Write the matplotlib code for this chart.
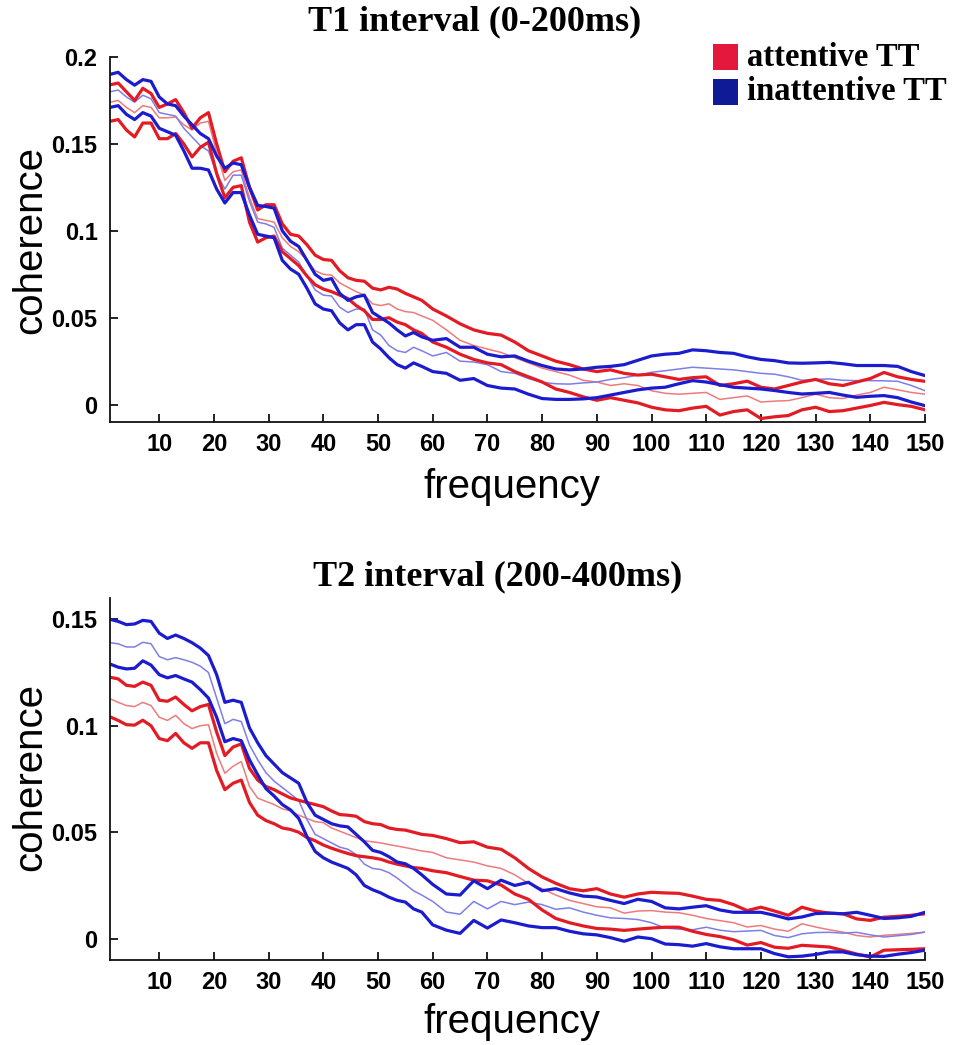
import numpy as np
import matplotlib
matplotlib.use("Agg")
import matplotlib.pyplot as plt
from matplotlib.patches import Rectangle

# Frequency samples (Hz): finer where the spectra wiggle most
freq = np.r_[np.arange(1, 59, 1.5), np.arange(60, 151, 2.5)]

# ---- T1 interval (0-200 ms) ----
t1_att_upper = [
    0.184, 0.185, 0.180, 0.175, 0.182, 0.179, 0.171, 0.173, 0.1755, 0.168,
    0.159, 0.165, 0.168, 0.150, 0.134, 0.140, 0.142, 0.125, 0.112, 0.115,
    0.115, 0.104, 0.098, 0.097, 0.092, 0.086, 0.0835, 0.083, 0.077, 0.073,
    0.0715, 0.071, 0.067, 0.066, 0.0675, 0.0665, 0.064, 0.062, 0.060,
    0.055, 0.051, 0.0465, 0.043, 0.041, 0.040, 0.036, 0.031, 0.028, 0.025,
    0.023, 0.0205, 0.019, 0.020, 0.018, 0.017, 0.0175, 0.016, 0.0145, 0.0155,
    0.016, 0.011, 0.012, 0.0135, 0.010, 0.009, 0.011, 0.013, 0.0145, 0.012,
    0.011, 0.013, 0.015, 0.0185, 0.016, 0.0145, 0.0134]
t1_att_mean = [
    0.174, 0.175, 0.171, 0.168, 0.172, 0.171, 0.165, 0.165, 0.1655, 0.161,
    0.158, 0.162, 0.163, 0.145, 0.129, 0.134, 0.135, 0.119, 0.107, 0.106,
    0.105, 0.096, 0.091, 0.088, 0.083, 0.077, 0.075, 0.0745, 0.070, 0.0675,
    0.065, 0.063, 0.058, 0.057, 0.058, 0.055, 0.0535, 0.053, 0.051,
    0.0485, 0.043, 0.037, 0.034, 0.032, 0.030, 0.027, 0.024, 0.021, 0.019,
    0.017, 0.014, 0.013, 0.011, 0.012, 0.011, 0.008, 0.0065, 0.006, 0.0065,
    0.007, 0.003, 0.004, 0.005, 0.0015, 0.002, 0.0023, 0.004, 0.006, 0.004,
    0.0035, 0.0055, 0.007, 0.010, 0.0085, 0.007, 0.006]
t1_att_lower = [
    0.163, 0.164, 0.158, 0.154, 0.162, 0.162, 0.153, 0.153, 0.156, 0.150,
    0.1425, 0.148, 0.151, 0.133, 0.119, 0.125, 0.126, 0.105, 0.0935, 0.096,
    0.097, 0.088, 0.084, 0.080, 0.074, 0.069, 0.0665, 0.065, 0.063, 0.061,
    0.057, 0.054, 0.049, 0.049, 0.050, 0.0475, 0.046, 0.043, 0.041,
    0.036, 0.033, 0.029, 0.026, 0.024, 0.023, 0.019, 0.016, 0.013, 0.009,
    0.007, 0.0045, 0.0025, 0.004, 0.0025, 0.001, -0.0015, -0.003, -0.0035, -0.002,
    -0.001, -0.006, -0.004, -0.003, -0.008, -0.007, -0.0063, -0.003, -0.0015, -0.004,
    -0.0035, -0.002, -0.0005, 0.0013, 0.0, -0.001, -0.003]
t1_ina_upper = [
    0.190, 0.1912, 0.187, 0.1838, 0.187, 0.186, 0.177, 0.173, 0.172, 0.166,
    0.161, 0.156, 0.153, 0.143, 0.136, 0.139, 0.138, 0.125, 0.1146, 0.114,
    0.113, 0.100, 0.094, 0.091, 0.083, 0.075, 0.0715, 0.0725, 0.064, 0.060,
    0.062, 0.063, 0.053, 0.050, 0.047, 0.043, 0.0395, 0.0415, 0.039,
    0.037, 0.038, 0.033, 0.033, 0.029, 0.0275, 0.028, 0.025, 0.0225, 0.0205,
    0.020, 0.0205, 0.0215, 0.022, 0.023, 0.0255, 0.028, 0.029, 0.0295, 0.0315,
    0.031, 0.030, 0.0295, 0.0275, 0.026, 0.0253, 0.024, 0.0238, 0.024, 0.0243,
    0.0235, 0.0225, 0.0225, 0.0225, 0.022, 0.019, 0.0167]
t1_ina_mean = [
    0.180, 0.181, 0.177, 0.174, 0.178, 0.176, 0.168, 0.167, 0.166, 0.159,
    0.154, 0.149, 0.146, 0.133, 0.124, 0.132, 0.132, 0.117, 0.105, 0.104,
    0.102, 0.090, 0.086, 0.082, 0.074, 0.066, 0.063, 0.0625, 0.056, 0.053,
    0.055, 0.055, 0.043, 0.040, 0.034, 0.031, 0.030, 0.033, 0.031,
    0.028, 0.030, 0.025, 0.0245, 0.023, 0.019, 0.018, 0.015, 0.0128, 0.012,
    0.0118, 0.0125, 0.013, 0.0145, 0.0155, 0.017, 0.0186, 0.0195, 0.0205, 0.0215,
    0.021, 0.0205, 0.020, 0.019, 0.018, 0.0175, 0.016, 0.014, 0.0145, 0.0148,
    0.014, 0.0138, 0.0138, 0.0137, 0.0134, 0.011, 0.008]
t1_ina_lower = [
    0.171, 0.172, 0.167, 0.164, 0.168, 0.166, 0.159, 0.157, 0.155, 0.146,
    0.136, 0.136, 0.135, 0.124, 0.116, 0.122, 0.122, 0.109, 0.098, 0.097,
    0.096, 0.083, 0.078, 0.075, 0.067, 0.058, 0.055, 0.054, 0.047, 0.043,
    0.046, 0.046, 0.036, 0.032, 0.027, 0.023, 0.021, 0.024, 0.022,
    0.019, 0.018, 0.014, 0.015, 0.011, 0.0095, 0.009, 0.006, 0.0035, 0.003,
    0.003, 0.0033, 0.004, 0.0055, 0.007, 0.0085, 0.0095, 0.010, 0.012, 0.0138,
    0.013, 0.0115, 0.010, 0.0095, 0.009, 0.0081, 0.007, 0.0061, 0.0065, 0.007,
    0.0055, 0.0042, 0.0048, 0.0052, 0.004, 0.0015, -0.0006]

# ---- T2 interval (200-400 ms) ----
t2_att_upper = [
    0.1228, 0.122, 0.119, 0.1185, 0.1205, 0.119, 0.112, 0.1115, 0.1135, 0.110,
    0.107, 0.109, 0.110, 0.097, 0.086, 0.090, 0.0915, 0.080, 0.0745, 0.0715,
    0.070, 0.068, 0.0661, 0.065, 0.064, 0.063, 0.062, 0.060, 0.0583, 0.058,
    0.0575, 0.055, 0.054, 0.0536, 0.052, 0.0513, 0.051, 0.050, 0.049,
    0.0485, 0.047, 0.0451, 0.0455, 0.043, 0.042, 0.038, 0.033, 0.029, 0.026,
    0.0235, 0.0225, 0.0235, 0.021, 0.0195, 0.021, 0.0218, 0.0215, 0.0213, 0.020,
    0.0185, 0.018, 0.016, 0.0132, 0.0148, 0.013, 0.011, 0.0148, 0.013, 0.012,
    0.0117, 0.0093, 0.0086, 0.0101, 0.0105, 0.011, 0.0117]
t2_att_mean = [
    0.1127, 0.111, 0.1095, 0.109, 0.111, 0.1095, 0.104, 0.1025, 0.1049, 0.101,
    0.0987, 0.100, 0.1005, 0.087, 0.0777, 0.081, 0.0832, 0.0715, 0.066, 0.0645,
    0.063, 0.061, 0.060, 0.058, 0.0565, 0.055, 0.0545, 0.052, 0.0505, 0.049,
    0.0475, 0.046, 0.0455, 0.045, 0.0442, 0.0435, 0.0428, 0.042, 0.0412,
    0.0405, 0.038, 0.037, 0.036, 0.0342, 0.033, 0.030, 0.026, 0.0235, 0.0205,
    0.018, 0.0165, 0.015, 0.0145, 0.012, 0.013, 0.0132, 0.0125, 0.0122, 0.011,
    0.0095, 0.0085, 0.0075, 0.0055, 0.0062, 0.0045, 0.0035, 0.007, 0.0055, 0.0042,
    0.0031, 0.0015, 0.0008, 0.0016, 0.002, 0.0025, 0.0031]
t2_att_lower = [
    0.1042, 0.1025, 0.1005, 0.1003, 0.1026, 0.100, 0.094, 0.093, 0.0964, 0.092,
    0.0894, 0.092, 0.092, 0.079, 0.070, 0.073, 0.0745, 0.064, 0.058, 0.0555,
    0.054, 0.052, 0.0513, 0.050, 0.0475, 0.046, 0.044, 0.0425, 0.0412, 0.040,
    0.039, 0.0385, 0.038, 0.0373, 0.036, 0.035, 0.0342, 0.0334, 0.033,
    0.0319, 0.031, 0.0292, 0.0275, 0.0272, 0.0252, 0.021, 0.0185, 0.0135, 0.0095,
    0.0075, 0.006, 0.0048, 0.0045, 0.0039, 0.0045, 0.005, 0.0054, 0.0054, 0.0035,
    0.002, 0.001, -0.0005, -0.003, -0.0018, -0.004, -0.0045, -0.0031, -0.0035, -0.0039,
    -0.0055, -0.0072, -0.0086, -0.0054, -0.0052, -0.005, -0.0047]
t2_ina_upper = [
    0.150, 0.149, 0.1475, 0.1478, 0.1495, 0.149, 0.1435, 0.141, 0.1426, 0.141,
    0.139, 0.1365, 0.133, 0.124, 0.111, 0.112, 0.111, 0.099, 0.092, 0.086,
    0.082, 0.078, 0.0755, 0.073, 0.064, 0.058, 0.056, 0.054, 0.053, 0.0525,
    0.049, 0.0455, 0.0415, 0.0405, 0.0385, 0.036, 0.0352, 0.033, 0.030,
    0.0255, 0.021, 0.0205, 0.0272, 0.0235, 0.0275, 0.025, 0.0265, 0.0225, 0.0235,
    0.0215, 0.020, 0.0196, 0.018, 0.0165, 0.0185, 0.0175, 0.0145, 0.014, 0.0148,
    0.0155, 0.0135, 0.0124, 0.0124, 0.0124, 0.011, 0.0093, 0.0102, 0.0118, 0.012,
    0.0117, 0.0124, 0.011, 0.0095, 0.0098, 0.0105, 0.0124]
t2_ina_mean = [
    0.139, 0.1385, 0.137, 0.137, 0.1392, 0.1385, 0.1325, 0.131, 0.132, 0.131,
    0.1298, 0.128, 0.125, 0.113, 0.101, 0.103, 0.102, 0.091, 0.084, 0.078,
    0.074, 0.071, 0.068, 0.065, 0.056, 0.049, 0.047, 0.045, 0.043, 0.042,
    0.0395, 0.035, 0.033, 0.0325, 0.031, 0.0285, 0.0255, 0.0225, 0.0205,
    0.0175, 0.0125, 0.0115, 0.0175, 0.014, 0.0175, 0.016, 0.0172, 0.016, 0.0138,
    0.0145, 0.0125, 0.011, 0.0098, 0.0095, 0.009, 0.0075, 0.005, 0.0045, 0.0042,
    0.0054, 0.004, 0.0033, 0.0036, 0.0039, 0.0015, 0.0005, 0.0023, 0.0029, 0.003,
    0.0026, 0.003, 0.0018, 0.0008, 0.0014, 0.002, 0.0031]
t2_ina_lower = [
    0.129, 0.1275, 0.1267, 0.127, 0.1305, 0.1285, 0.124, 0.1225, 0.1236, 0.122,
    0.1205, 0.117, 0.113, 0.104, 0.0925, 0.094, 0.093, 0.084, 0.077, 0.0705,
    0.067, 0.063, 0.0605, 0.0565, 0.048, 0.041, 0.038, 0.036, 0.0345, 0.033,
    0.030, 0.025, 0.023, 0.0215, 0.0195, 0.018, 0.0172, 0.014, 0.0125,
    0.0065, 0.004, 0.0025, 0.0086, 0.005, 0.0088, 0.0075, 0.006, 0.0052, 0.0052,
    0.0035, 0.0023, 0.0018, 0.0005, -0.0012, 0.0008, 0.0, -0.0025, -0.0028, -0.0035,
    -0.0023, -0.0038, -0.0047, -0.0047, -0.0047, -0.007, -0.0085, -0.0082, -0.0074, -0.0062,
    -0.0062, -0.0075, -0.0082, -0.0083, -0.0073, -0.0065, -0.0054]

x_ticks = [10, 20, 30, 40, 50, 60, 70, 80, 90, 100, 110, 120, 130, 140, 150]
t1_yticks = [0, 0.05, 0.1, 0.15, 0.2]
t1_ylabels = ["0", "0.05", "0.1", "0.15", "0.2"]
t2_yticks = [0, 0.05, 0.1, 0.15]
t2_ylabels = ["0", "0.05", "0.1", "0.15"]

RED = "#e31b23"
RED_MEAN = "#ee7b7b"
BLUE = "#1c1ccf"
BLUE_MEAN = "#7e7ee6"

SANS = "Liberation Sans"
SERIF = "Liberation Serif"

W, H = 956, 1045
fig = plt.figure(figsize=(W / 100, H / 100), dpi=100)


def px_box(left, top, right, bottom):
    return [left / W, 1 - bottom / H, (right - left) / W, (bottom - top) / H]


def draw_panel(rect, upper_a, mean_a, lower_a, upper_i, mean_i, lower_i,
               ylim, yticks, ylabels):
    ax = fig.add_axes(rect)
    kw = dict(solid_joinstyle="round", solid_capstyle="round")
    ax.plot(freq, mean_a, color=RED_MEAN, lw=1.1, **kw)
    ax.plot(freq, mean_i, color=BLUE_MEAN, lw=1.1, **kw)
    ax.plot(freq, upper_a, color=RED, lw=2.3, **kw)
    ax.plot(freq, lower_a, color=RED, lw=2.3, **kw)
    ax.plot(freq, upper_i, color=BLUE, lw=2.3, **kw)
    ax.plot(freq, lower_i, color=BLUE, lw=2.3, **kw)
    ax.set_xlim(1, 150)
    ax.set_ylim(*ylim)
    ax.set_xticks(x_ticks)
    ax.set_xticklabels([str(t) for t in x_ticks])
    ax.set_yticks(yticks)
    ax.set_yticklabels(ylabels)
    for s in ("top", "right"):
        ax.spines[s].set_visible(False)
    for s in ("left", "bottom"):
        ax.spines[s].set_linewidth(1.3)
        ax.spines[s].set_color("#111111")
    ax.spines["left"].set_bounds(ylim[0], ylim[1])
    ax.tick_params(direction="in", length=6, width=1.3, color="#111111")
    ax.tick_params(axis="x", pad=8)
    ax.tick_params(axis="y", pad=9)
    for lab in ax.get_xticklabels() + ax.get_yticklabels():
        lab.set_fontfamily(SANS)
        lab.set_fontweight("bold")
        lab.set_fontsize(17)
    return ax


draw_panel(px_box(110, 57, 925, 422),
           t1_att_upper, t1_att_mean, t1_att_lower,
           t1_ina_upper, t1_ina_mean, t1_ina_lower,
           (-0.01, 0.2), t1_yticks, t1_ylabels)
draw_panel(px_box(110, 598, 925, 960),
           t2_att_upper, t2_att_mean, t2_att_lower,
           t2_ina_upper, t2_ina_mean, t2_ina_lower,
           (-0.01, 0.16), t2_yticks, t2_ylabels)

# Titles
fig.text(475 / W, 1 - 22 / H, "T1 interval (0-200ms)", ha="center", va="center",
         fontfamily=SERIF, fontweight="bold", fontsize=26)
fig.text(498 / W, 1 - 577 / H, "T2 interval (200-400ms)", ha="center", va="center",
         fontfamily=SERIF, fontweight="bold", fontsize=26)

# Axis labels
for yc in (240, 777):
    fig.text(30 / W, 1 - yc / H, "coherence", rotation=90, ha="center", va="center",
             fontfamily=SANS, fontsize=29)
for yc in (487, 1022):
    fig.text(512 / W, 1 - yc / H, "frequency", ha="center", va="center",
             fontfamily=SANS, fontsize=29)

# Legend
legend_items = [("attentive TT", "#e4173d", 57), ("inattentive TT", "#0f1a96", 92)]
for label, col, yc in legend_items:
    fig.patches.append(Rectangle((713 / W, 1 - (yc + 12.5) / H), 25 / W, 25 / H,
                                 transform=fig.transFigure, facecolor=col,
                                 edgecolor="none"))
    fig.text(747 / W, 1 - yc / H, label, ha="left", va="center",
             fontfamily=SERIF, fontweight="bold", fontsize=23.5)

fig.savefig("out.png", dpi=100, facecolor="white")
